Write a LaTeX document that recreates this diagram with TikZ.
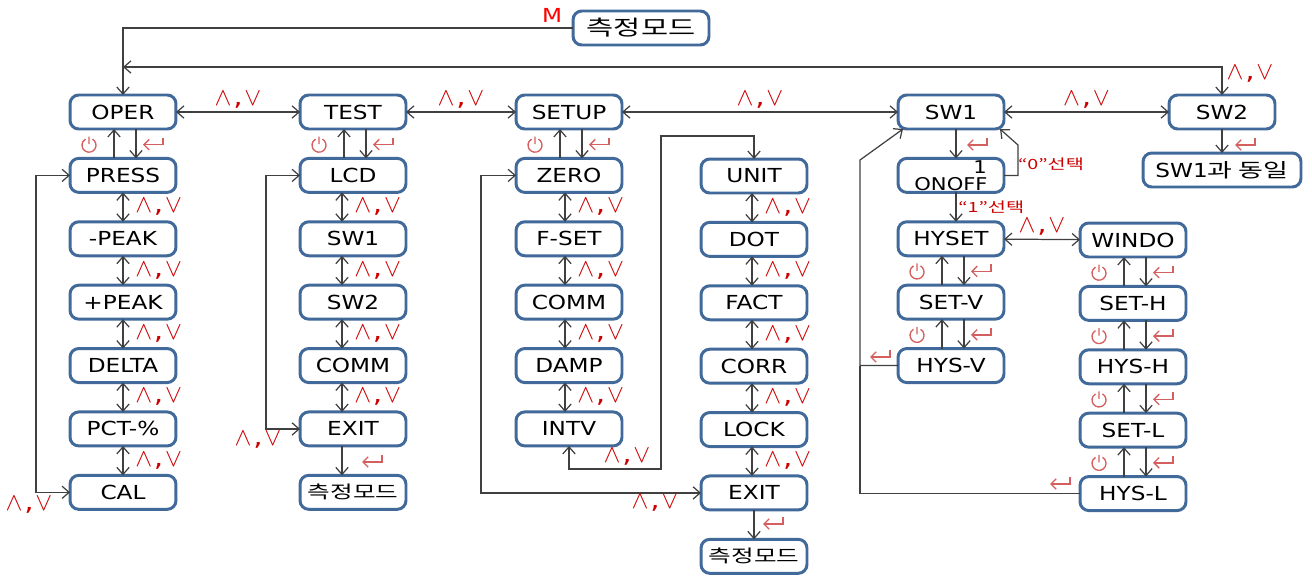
\documentclass[tikz,border=0pt]{standalone}
\usepackage{fontspec}
\setmainfont{DejaVu Sans}[FakeStretch=1.2]
\newfontfamily\kr{Noto Sans CJK KR}[FakeStretch=1.4]
\usetikzlibrary{arrows.meta, positioning, calc}
\definecolor{frame}{HTML}{41699A}
\definecolor{wire}{HTML}{404040}
\definecolor{keyred}{HTML}{CC0000}
\definecolor{soft}{HTML}{D55F5F}
\newcommand{\updown}{$\wedge$\hspace{1pt},\hspace{1pt}$\vee$}

\begin{document}
\begin{tikzpicture}[x=0.02cm, y=-0.02cm,
      >={Straight Barb[length=4pt, width=7pt]},
      box/.style={draw=frame, line width=1.7pt, fill=white, rounded corners=5pt,
                  minimum width=2.12cm, minimum height=0.68cm, inner sep=0pt,
                  outer sep=0pt, font=\fontsize{11}{12}\selectfont},
      a/.style={->, draw=wire, line width=0.7pt},
      aa/.style={<->, draw=wire, line width=0.7pt},
      plain/.style={draw=wire, line width=0.7pt},
      av/.style={text=keyred, font=\fontsize{14}{14}\selectfont, inner sep=1pt},
      sel/.style={text=keyred, font=\kr\fontsize{8}{9}\selectfont, inner sep=1pt},
      node distance=0.588cm,
      pwr/.pic={\draw[soft, line width=0.75pt] (0cm,0.02cm) -- (0cm,0.17cm)
                  (60:0.14cm) arc[start angle=60, end angle=-240, radius=0.14cm];},
      ent/.pic={\draw[soft, line width=0.75pt, <-, >={Straight Barb[length=3pt, width=6pt]}]
                  (-0.2cm,-0.04cm) -- (0.2cm,-0.04cm) -- (0.2cm,0.1cm);}]
    \useasboundingbox (0,0) rectangle (1312,575);

    % measuring mode on top
    \node[box, minimum width=2.72cm, font=\fontsize{12}{13}\selectfont] (meas) at (641,28) {\kr 측정모드};
    \node[text=red, font=\fontsize{11}{12}\selectfont, inner sep=0pt] (mkey) at (552,15) {M};

    % OPER column
    \node[box] (oper) at (123,112) {OPER};
    \node[box, below=of oper] (press) {PRESS};
    \node[box, below=of press] (mpeak) {-PEAK};
    \node[box, below=of mpeak] (ppeak) {+PEAK};
    \node[box, below=of ppeak] (delta) {DELTA};
    \node[box, below=of delta] (pct) {PCT-\%};
    \node[box, below=of pct] (cal) {CAL};

    % TEST column
    \node[box] (test) at (353,112) {TEST};
    \node[box, below=of test] (lcd) {LCD};
    \node[box, below=of lcd] (tsw1) {SW1};
    \node[box, below=of tsw1] (tsw2) {SW2};
    \node[box, below=of tsw2] (tcomm) {COMM};
    \node[box, below=of tcomm] (texit) {EXIT};
    \node[box, below=of texit, font=\fontsize{10}{12}\selectfont] (tmeas) {\kr 측정모드};

    % SETUP columns
    \node[box] (setup) at (569,112) {SETUP};
    \node[box, below=of setup] (zero) {ZERO};
    \node[box, below=of zero] (fset) {F-SET};
    \node[box, below=of fset] (scomm) {COMM};
    \node[box, below=of scomm] (damp) {DAMP};
    \node[box, below=of damp] (intv) {INTV};
    \node[box] (unit) at (754,176) {UNIT};
    \node[box, below=of unit] (dot) {DOT};
    \node[box, below=of dot] (fact) {FACT};
    \node[box, below=of fact] (corr) {CORR};
    \node[box, below=of corr] (lock) {LOCK};
    \node[box, below=of lock] (sexit) {EXIT};
    \node[box, below=of sexit, font=\fontsize{10}{12}\selectfont] (smeas) {\kr 측정모드};

    % SW1 / SW2
    \node[box] (sw1) at (951,112) {SW1};
    \node[box, below=of sw1, align=center, font=\fontsize{10}{9.5}\selectfont] (onoff)
      {\hspace*{1.16cm}1\\ONOFF};
    \node[box, below=of onoff] (hyset) {HYSET};
    \node[box, below=of hyset] (setv) {SET-V};
    \node[box, below=of setv] (hysv) {HYS-V};
    \node[box] (windo) at (1133,240) {WINDO};
    \node[box, below=of windo] (seth) {SET-H};
    \node[box, below=of seth] (hysh) {HYS-H};
    \node[box, below=of hysh] (setl) {SET-L};
    \node[box, below=of setl] (hysl) {HYS-L};
    \node[box] (sw2) at (1222,112) {SW2};
    \node[box, minimum width=3.16cm] (same) at (1222,170) {SW1{\kr 과 동일}};

    % returns from the top
    \draw[a] (meas.west) -| (oper.north);
    \coordinate (back) at (123,67);
    \draw[aa] (back) -| (sw2.north);
    \node[av] (avsw2) at (1250,74) {\updown};

    % main menu row
    \draw[aa] (oper) -- node[av, above=1pt] (av1) {\updown} (test);
    \draw[aa] (test) -- node[av, above=1pt] (av2) {\updown} (setup);
    \draw[aa] (setup) -- node[av, above=1pt] (av3) {\updown} (sw1);
    \draw[aa] (sw1) -- node[av, above=1pt] (av4) {\updown} (sw2);

    % scrolling inside lists
    \foreach \u/\d/\s in {press/mpeak/0, mpeak/ppeak/0, ppeak/delta/0, delta/pct/0, pct/cal/0,
        lcd/tsw1/-11, tsw1/tsw2/-11, tsw2/tcomm/-11, tcomm/texit/-11,
        zero/fset/-4, fset/scomm/-4, scomm/damp/-4, damp/intv/-4,
        unit/dot/-2, dot/fact/-2, fact/corr/-2, corr/lock/-2, lock/sexit/-2}
      \draw[aa] ([xshift=\s*0.02cm]\u.south) -- node[av, right=0.2cm] (av-\u) {\updown}
        ([xshift=\s*0.02cm]\d.north);

    % enter / escape pairs
    \foreach \u/\d in {oper/press, test/lcd, setup/zero, hyset/setv, setv/hysv,
        windo/seth, seth/hysh, hysh/setl, setl/hysl} {
      \draw[a] ([xshift=-0.18cm]\d.north) -- ([xshift=-0.18cm]\u.south);
      \draw[a] ([xshift=0.26cm]\u.south) -- ([xshift=0.26cm]\d.north);
      \path ($(\u.south)!0.5!(\d.north)$) coordinate (mid-\u);
      \pic at ([xshift=-0.68cm, yshift=-0.03cm]mid-\u) {pwr};
      \pic at ([xshift=0.6cm, yshift=0.02cm]mid-\u) {ent};
    }

    % list loops
    \coordinate (x1) at (36,0);
    \draw[aa] (press.west) -- (press.west -| x1) |- (cal.west);
    \node[av] (avcal) at (29,505) {\updown};
    \coordinate (x2) at (266,0);
    \draw[aa] (lcd.west) -- (lcd.west -| x2) |- (texit.west);
    \node[av] (avtexit) at (258,440) {\updown};
    \draw[a] ([xshift=-0.22cm]texit.south) -- ([xshift=-0.22cm]tmeas.north);
    \pic at (372,460) {ent};

    \coordinate (x3) at (481,0);
    \draw[aa] (zero.west) -- (zero.west -| x3) |- (sexit.west);
    \node[av] (avsexit) at (655,503) {\updown};
    \coordinate (x4) at (661,469);
    \draw[aa] (intv.south) |- (x4) |- ([yshift=0.46cm]unit.north) -- (unit.north);
    \node[av] (avintv) at (627,457) {\updown};
    \draw[a] (sexit) -- (smeas);
    \pic at (773,522) {ent};

    % SW1 settings
    \draw[a] ([xshift=0.1cm]sw1.south) -- ([xshift=0.1cm]onoff.north);
    \pic at (977,143) {ent};
    \coordinate (x5) at (1018,145);
    \draw[a] (onoff.east) -- (onoff.east -| x5) -- (x5) -- ([xshift=-0.08cm]sw1.south east);
    \node[sel] (sel0) at (1051,164) {“0”선택};
    \draw[a] ([xshift=0.1cm]onoff.south) -- node[sel, right] (sel1) {“1”선택}
      ([xshift=0.1cm]hyset.north);
    \draw[aa] (hyset) -- node[av, above=1pt] (av5) {\updown} (windo);
    \coordinate (x6) at (860,160);
    \draw[a] (hysv.west) -- (hysv.west -| x6) -- (x6) -- ([xshift=0.1cm]sw1.south west);
    \draw[plain] (hysl.west) -| (hysv.west -| x6);
    \pic at (880,355) {ent};
    \pic at (1060,482) {ent};
    \draw[a] (sw2) -- (same);
    \pic at (1245,143) {ent};
  \end{tikzpicture}
\end{document}
